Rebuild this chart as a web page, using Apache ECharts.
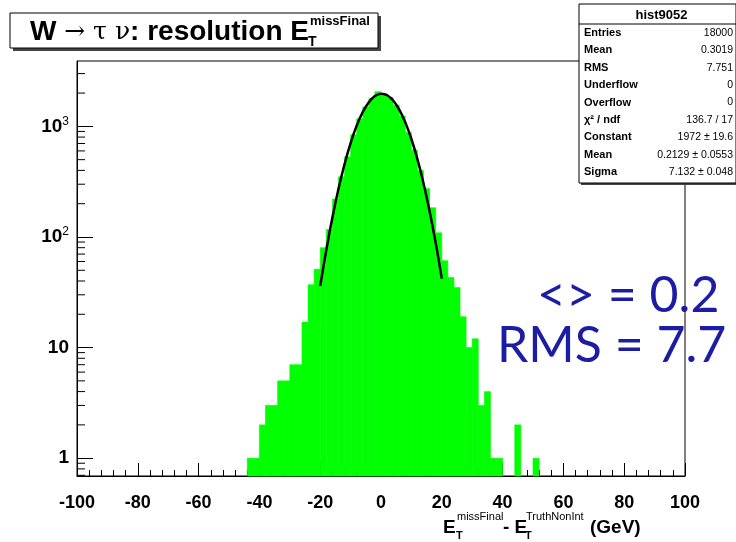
<!DOCTYPE html>
<html>
<head>
<meta charset="utf-8">
<script src="https://cdn.jsdelivr.net/npm/echarts@6/dist/echarts.min.js"></script>
<style>
html, body { margin: 0; padding: 0; background: #fff; }
#chart { width: 736px; height: 542px; }
</style>
</head>
<body>
<div id="chart"></div>
<script>
// histogram: low edge of each 2 GeV bin and its content
const binWidth = 2;
const binLow = [-44, -42, -40, -38, -36, -34, -32, -30, -28, -26, -24, -22, -20, -18, -16, -14,
  -12, -10, -8, -6, -4, -2, 0, 2, 4, 6, 8, 10, 12, 14, 16, 18,
  20, 22, 24, 26, 28, 30, 32, 34, 36, 38, 40, 42, 44, 46, 48, 50];
const binCounts = [1, 1, 2, 3, 3, 5, 5, 7, 7, 17, 37, 51, 80, 117, 220, 350,
  530, 840, 1170, 1500, 1790, 2060, 1980, 1820, 1560, 1240, 880, 610, 400, 275, 184, 109,
  61, 43, 35, 19, 10, 12, 3, 4, 1, 1, 0, 0, 2, 0, 0, 1];

// gaussian fit curve
const fitX = [-20, -18, -16, -14, -12, -10, -8, -6, -4, -2, 0, 2, 4, 6, 8, 10, 12, 14, 16, 18, 20];
const fitY = [36, 76, 149, 271, 455, 707, 1016, 1349, 1656, 1879, 1971, 1911, 1713, 1419, 1087, 769, 503, 305, 170, 88, 42];

// y axis labels (decades)
const yDecades = [1, 10, 100, 1000];
const yLabels = ['{b|1}', '{b|10}', '{b|10}{s|2}', '{b|10}{s|3}'];

// statistics box
const statNames = ['Entries', 'Mean', 'RMS', 'Underflow', 'Overflow', 'χ² / ndf', 'Constant', 'Mean', 'Sigma'];
const statValues = ['18000', '0.3019', '7.751', '0', '0', '136.7 / 17', '1972 ± 19.6', '0.2129 ± 0.0553', '7.132 ± 0.048'];

const chart = echarts.init(document.getElementById('chart'));

const yMin = 0.69, yMax = 3900;
const yMinor = [];
for (let d = 0.1; d <= 1000; d *= 10) {
  for (let k = 2; k <= 9; k++) {
    const v = +(k * d).toPrecision(2);
    if (v > yMin && v < yMax) yMinor.push(v);
  }
}

const histData = binLow.map((x, i) => [x, binCounts[i]]).filter(d => d[1] > 0);
const fitData = fitX.map((x, i) => [x, fitY[i]]);

const font = 'Liberation Sans, Arial, sans-serif';

// measure title width so the super/subscript sit right after the E
const ctx = document.createElement('canvas').getContext('2d');
const measure = (txt, f) => { ctx.font = f; return ctx.measureText(txt).width; };
const tFontB = 'bold 28px ' + font, tFontN = '25px DejaVu Serif, serif';
const titleEnd = 30 + measure('W ', tFontB) + measure('→ τ ν', tFontN) + measure(': resolution E', tFontB);

const statGraphics = [];
const boxL = 579, boxR = 736, boxT = 4, boxH = 179, rowH = 17.4;
statGraphics.push({ type: 'rect', shape: { x: boxL + 2, y: boxT + 2, width: boxR - boxL, height: boxH }, style: { fill: '#444' } });
statGraphics.push({ type: 'rect', shape: { x: boxL, y: boxT, width: boxR - boxL, height: boxH }, style: { fill: '#fff', stroke: '#000', lineWidth: 1 } });
statGraphics.push({ type: 'line', shape: { x1: boxL, y1: boxT + 20, x2: boxR, y2: boxT + 20 }, style: { stroke: '#000', lineWidth: 1 } });
statGraphics.push({ type: 'text', style: { x: (boxL + boxR) / 2 + 4, y: boxT + 11, text: 'hist9052', font: 'bold 13px ' + font, fill: '#000', align: 'center', verticalAlign: 'middle' } });
statNames.forEach((n, i) => {
  const y = boxT + 29 + i * rowH;
  statGraphics.push({ type: 'text', style: { x: boxL + 5, y: y, text: n, font: 'bold 11px ' + font, fill: '#000', verticalAlign: 'middle' } });
  statGraphics.push({ type: 'text', style: { x: boxR - 3, y: y, text: statValues[i], font: '10.5px ' + font, fill: '#000', align: 'right', verticalAlign: 'middle' } });
});

const option = {
  animation: false,
  backgroundColor: '#fff',
  grid: { left: 77, right: 51, top: 61, bottom: 66, show: true, borderColor: '#000', borderWidth: 1, backgroundColor: 'transparent' },
  xAxis: {
    type: 'value', min: -100, max: 100, interval: 20,
    axisLine: { show: true, onZero: false, lineStyle: { color: '#000', width: 1 } },
    axisTick: { show: true, inside: true, length: 13, lineStyle: { color: '#000' } },
    minorTick: { show: true, splitNumber: 5, length: 6, lineStyle: { color: '#000' } },
    splitLine: { show: false },
    axisLabel: { margin: 18, color: '#000', fontFamily: font, fontWeight: 'bold', fontSize: 18 }
  },
  yAxis: {
    type: 'log', logBase: 10, min: yMin, max: yMax,
    axisLine: { show: true, onZero: false, lineStyle: { color: '#000', width: 1 } },
    axisTick: { show: true, inside: true, length: 16, lineStyle: { color: '#000' } },
    splitLine: { show: false },
    axisLabel: {
      margin: 8, showMinLabel: false, showMaxLabel: false,
      formatter: v => {
        const i = yDecades.findIndex(d => Math.abs(d - v) / d < 1e-6);
        return i < 0 ? '' : yLabels[i];
      },
      rich: {
        b: { fontFamily: font, fontWeight: 'bold', fontSize: 19, color: '#000' },
        s: { fontFamily: font, fontSize: 12, color: '#000', verticalAlign: 'top', padding: [0, 0, 10, 0] }
      }
    }
  },
  series: [
    {
      type: 'custom',
      data: histData,
      renderItem: (params, api) => {
        const x0 = api.value(0), v = api.value(1);
        const p0 = api.coord([x0, v]);
        const p1 = api.coord([x0 + binWidth, v]);
        const bottom = params.coordSys.y + params.coordSys.height;
        return {
          type: 'rect',
          shape: { x: p0[0], y: p0[1], width: p1[0] - p0[0], height: bottom - p0[1] },
          style: { fill: '#00ff00', stroke: '#00ff00', lineWidth: 0.6 }
        };
      },
      z: 2
    },
    {
      type: 'line',
      data: fitData,
      smooth: 0.4,
      showSymbol: false,
      lineStyle: { color: '#000', width: 2.5 },
      z: 3
    },
    {
      // minor log ticks on the y axis
      type: 'custom',
      data: yMinor.map(v => [v]),
      renderItem: (params, api) => {
        const y = api.coord([-100, api.value(0)])[1];
        const x = params.coordSys.x;
        return { type: 'line', shape: { x1: x, y1: y, x2: x + 8, y2: y }, style: { stroke: '#000', lineWidth: 1 } };
      },
      encode: { y: 0 },
      z: 4
    }
  ],
  graphic: [
    // title box
    { type: 'rect', shape: { x: 13, y: 16, width: 368, height: 35 }, style: { fill: '#444' } },
    { type: 'rect', shape: { x: 10, y: 13, width: 368, height: 35 }, style: { fill: '#fff', stroke: '#000', lineWidth: 1 } },
    { type: 'text', style: { x: 30, y: 32, text: '{b|W }{n|→ τ ν}{b|: resolution E}', verticalAlign: 'middle',
      rich: { b: { font: tFontB, fill: '#000' }, n: { font: tFontN, fill: '#000' } } } },
    { type: 'text', style: { x: titleEnd + 1, y: 21, text: 'missFinal', font: 'bold 13px ' + font, fill: '#000', verticalAlign: 'middle' } },
    { type: 'text', style: { x: titleEnd - 1, y: 42, text: 'T', font: 'bold 14px ' + font, fill: '#000', verticalAlign: 'middle' } },
    // x axis title
    { type: 'text', style: { x: 443, y: 528, text: 'E', font: 'bold 19px ' + font, fill: '#000', verticalAlign: 'middle' } },
    { type: 'text', style: { x: 456, y: 536, text: 'T', font: 'bold 11px ' + font, fill: '#000', verticalAlign: 'middle' } },
    { type: 'text', style: { x: 457, y: 517, text: 'missFinal', font: '11px ' + font, fill: '#000', verticalAlign: 'middle' } },
    { type: 'text', style: { x: 503, y: 528, text: '- E', font: 'bold 19px ' + font, fill: '#000', verticalAlign: 'middle' } },
    { type: 'text', style: { x: 525, y: 536, text: 'T', font: 'bold 11px ' + font, fill: '#000', verticalAlign: 'middle' } },
    { type: 'text', style: { x: 526, y: 517, text: 'TruthNonInt', font: '11px ' + font, fill: '#000', verticalAlign: 'middle' } },
    { type: 'text', style: { x: 590, y: 528, text: '(GeV)', font: 'bold 19px ' + font, fill: '#000', verticalAlign: 'middle' } },
    // annotations
    { type: 'text', style: { x: 537, y: 296, text: '<> = 0.2', font: '50px Lato, sans-serif', fill: '#1c1ca4', verticalAlign: 'middle' } },
    { type: 'text', style: { x: 497, y: 346, text: 'RMS = 7.7', font: '50px Lato, sans-serif', fill: '#1c1ca4', verticalAlign: 'middle' } },
    ...statGraphics
  ]
};

chart.setOption(option);
</script>
</body>
</html>
